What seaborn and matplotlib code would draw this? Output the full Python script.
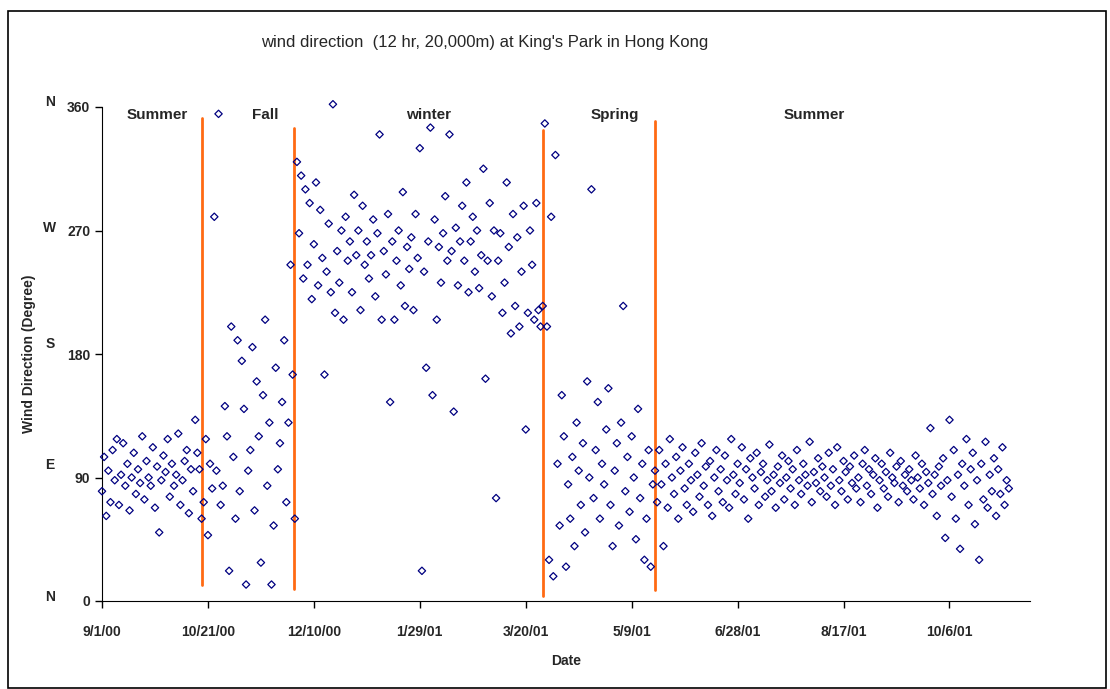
import matplotlib
matplotlib.use("Agg")
import matplotlib.pyplot as plt
import matplotlib.transforms as mtransforms
from matplotlib.patches import Rectangle
import seaborn as sns
import pandas as pd
import numpy as np

sns.set_style("white")
plt.rcParams['font.family'] = ['Liberation Sans', 'DejaVu Sans']

seg_summer1 = [80,105,62,95,72,110,88,118,70,92,115,84,100,66,90,108,78,96,86,120,
               74,102,90,84,112,68,98,50,88,106,94,118,76,100,84,92,122,70,88,102,
               110,64,96,80,132,108,96,60]
seg_fall = [72,118,48,100,82,280,95,355,70,84,142,120,22,200,105,60,190,80,175,140,
            12,95,110,185,66,160,120,28,150,205,84,130,12,55,170,96,115,145,190,72,130,245,165]
seg_winter = [60,320,268,310,235,300,245,290,220,260,305,230,285,250,165,240,275,225,362,210,
              255,232,270,205,280,248,262,225,296,252,270,212,288,245,262,235,252,278,222,268,
              340,205,255,238,282,145,262,205,248,270,230,298,215,258,242,265,212,282,250,330,
              22,240,170,262,345,150,278,205,258,232,268,295,248,340,255,138,272,230,262,288,
              248,305,225,262,280,240,270,228,252,315,162,248,290,222,270,75,248,268,210,232,
              305,258,195,282,215,265,200,240,288,125,210,270,245,205,290,212,200]
seg_spring = [215,348,200,30,280,18,325,100,55,150,120,25,85,60,105,40,130,95,70,115,
              50,160,90,300,75,110,145,60,100,85,125,155,70,40,95,115,55,130,215,80,
              105,65,120,90,45,140,75,100,30,60,110,25,85]
seg_summer2 = [95,72,110,85,40,100,68,118,90,78,105,60,95,112,82,70,100,88,65,108,
               92,76,115,84,98,70,102,62,90,110,80,96,72,106,88,68,118,92,78,100,
               86,112,74,96,60,104,90,82,108,70,94,100,76,88,114,80,92,68,98,86,
               106,74,90,102,82,96,70,110,88,78,100,92,84,116,72,94,86,104,80,98,
               90,76,108,84,96,70,112,88,80,102,94,74,98,86,106,82,90,72,100,110,
               84,96,78,92,104,68,88,100,82,94,76,108,90,86,98,72,102,84,92,80,
               96,88,74,106,90,82,100,70,94,86,126,78,92,62,98,84,104,46,88,132,
               76,110,60,92,38,100,84,118,70,96,108,56,88,30,100,74,116,68,92,80,
               104,62,96,78,112,70,88,82]
direction = seg_summer1 + seg_fall + seg_winter + seg_spring + seg_summer2
start_date = "2000-09-01"

tick_labels = ["9/1/00","10/21/00","12/10/00","1/29/01","3/20/01","5/9/01","6/28/01","8/17/01","10/6/01"]
season_names = ["Summer","Fall","winter","Spring","Summer"]
season_days = [26,77,154,242,336]
boundary_days = [47,90.5,208,261]
boundary_low = [12,9,4,8]
boundary_high = [352,345,343,350]
compass = ["N","E","S","W","N"]
compass_vals = [3,99,187,272,364]

days = np.arange(len(direction))
df = pd.DataFrame({"day": days, "dir": direction})

fig = plt.figure(figsize=(11.1, 6.89), dpi=100)
ax = fig.add_axes([102/1110, 88/689, 928/1110, 494/689])
sns.scatterplot(data=df, x="day", y="dir", ax=ax, marker="D", s=14,
                facecolor="none", edgecolor="#000080", linewidth=0.9, clip_on=False, zorder=3)
for d, lo, hi in zip(boundary_days, boundary_low, boundary_high):
    ax.plot([d, d], [lo, hi], color="#ff6a13", lw=2)
for n, d in zip(season_names, season_days):
    ax.text(d, 354, n, ha="center", va="center", fontsize=11, fontweight="bold")

ax.set_xlim(0, 438)
ax.set_ylim(0, 360)
ax.set_xticks(np.arange(len(tick_labels)) * 50)
ax.set_xticklabels(tick_labels, fontsize=10, fontweight="bold")
ax.set_yticks([0, 90, 180, 270, 360])
ax.set_yticklabels(["0", "90", "180", "270", "360"], fontsize=10, fontweight="bold")
ax.tick_params(axis="x", pad=12)
ax.tick_params(direction="out", length=5, width=1, color="black", bottom=True, left=True)
for s in ["top", "right"]:
    ax.spines[s].set_visible(False)
for s in ["left", "bottom"]:
    ax.spines[s].set_color("black")
ax.set_xlabel("Date", fontsize=10, fontweight="bold", labelpad=11)
ax.set_ylabel("Wind Direction (Degree)", fontsize=10, fontweight="bold", labelpad=22)

trans = mtransforms.blended_transform_factory(fig.transFigure, ax.transData)
for c, v in zip(compass, compass_vals):
    ax.text(50/1110, v, c, transform=trans, ha="center", va="center", fontsize=10, fontweight="bold")

fig.text(485/1110, 1 - 42/689, "wind direction  (12 hr, 20,000m) at King's Park in Hong Kong",
         ha="center", va="center", fontsize=12)
fig.patches.append(Rectangle((8/1110, 0.002), 1098/1110, 677/689, transform=fig.transFigure,
                             fill=False, edgecolor="black", lw=1.2))
fig.savefig("out.png", dpi=100)
